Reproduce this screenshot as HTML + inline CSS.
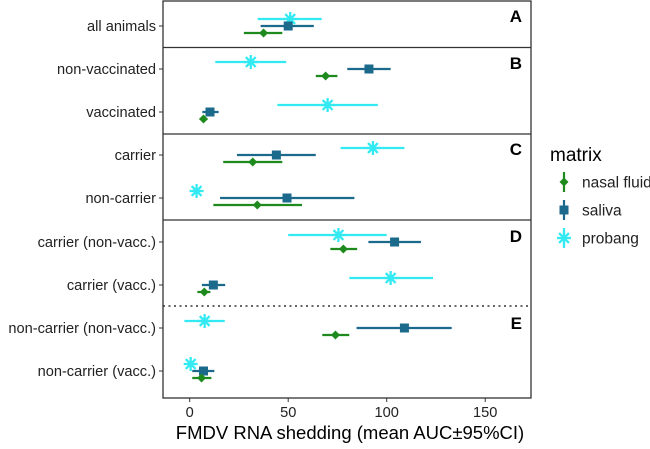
<!DOCTYPE html>
<html><head><meta charset="utf-8"><style>
body{margin:0;background:#fff;font-family:"Liberation Sans",sans-serif}
svg text{font-family:"Liberation Sans",sans-serif}
</style></head><body>
<svg id="c" width="650" height="444" xmlns="http://www.w3.org/2000/svg"></svg>
<script>
const rows=["all animals","non-vaccinated","vaccinated","carrier","non-carrier","carrier (non-vacc.)","carrier (vacc.)","non-carrier (non-vacc.)","non-carrier (vacc.)"];
const nasalMean=[37.5,69,7,32,34.3,78,7.4,74,6];
const nasalLo=[27.5,64,5,17,12,71.4,3.9,67.3,1.3];
const nasalHi=[47,75,9,47,57,85,10.5,81,11];
const salivaMean=[50,91,10.3,44,49.4,104,12,109,7];
const salivaLo=[36,80,6.4,24,15.4,90.7,6.2,84.7,1.3];
const salivaHi=[63,102,14.7,64,83.6,117.4,18,133,12.5];
const probangMean=[51,31,70,93,3.5,75.5,102,7.6,0.5];
const probangLo=[34.5,13,44.5,76.6,3.5,50,81,-2.7,0.5];
const probangHi=[67,49,95.5,109,3.5,100,123.5,17.8,0.5];
const xTicks=[0,50,100,150];
const panelLabels=["A","B","C","D","E"];

const svg=document.getElementById('c');const NS="http://www.w3.org/2000/svg";
function el(t,a,p){const e=document.createElementNS(NS,t);for(const k in a)e.setAttribute(k,a[k]);(p||svg).appendChild(e);return e;}
const L=163,R=531,T=1,B=398;
const x=v=>189.7+v*1.97;
const rowY=[26,69,112,155,198,242,285,328,371];
const y=i=>rowY[i];
const cN="#1e8a1e",cS="#1b6a8c",cP="#33eaf2";
const frame=el('rect',{x:L,y:T,width:R-L,height:B-T,fill:'none',stroke:'#333','stroke-width':1.3});

[47.5,134,220].forEach(py=>{const l=el('line',{x1:L,x2:R,y1:py,y2:py,stroke:'#333','stroke-width':1.3});
});
const dl=el('line',{x1:L,x2:R,y1:306,y2:306,stroke:'#333','stroke-width':1.5,'stroke-dasharray':'2 3.5'});

const plY=[16,63,149,236,323];
panelLabels.forEach((t,i)=>{const e=el('text',{x:522,y:plY[i]+6,'text-anchor':'end','font-size':17,'font-weight':'bold',fill:'#000'});e.textContent=t;
});
rows.forEach((r,i)=>{const t=el('line',{x1:L-4,x2:L,y1:y(i),y2:y(i),stroke:'#333'});

const e=el('text',{x:156,y:y(i)+5,'text-anchor':'end','font-size':14.6,fill:'#222'});e.textContent=r;
});
xTicks.forEach(v=>{const t=el('line',{x1:x(v),x2:x(v),y1:B,y2:B+4,stroke:'#333'});

const e=el('text',{x:x(v),y:B+19,'text-anchor':'middle','font-size':14.6,fill:'#222'});e.textContent=v;
});
const xt=el('text',{x:350,y:439,'text-anchor':'middle','font-size':18.5,fill:'#000'});xt.textContent="FMDV RNA shedding (mean AUC±95%CI)";

function star(cx,cy,r,col,g){for(let k=0;k<4;k++){const a=k*Math.PI/4;el('line',{x1:cx-r*Math.cos(a),y1:cy-r*Math.sin(a),x2:cx+r*Math.cos(a),y2:cy+r*Math.sin(a),stroke:col,'stroke-width':2.3},g);}}
function mark(type,cx,cy,col,g){if(type==='n')el('polygon',{points:`${cx},${cy-4.5} ${cx+4.5},${cy} ${cx},${cy+4.5} ${cx-4.5},${cy}`,fill:col},g);
else if(type==='s')el('rect',{x:cx-4.5,y:cy-4.5,width:9,height:9,fill:col},g);else star(cx,cy,7,col,g);}
const series=[['p',probangMean,probangLo,probangHi,cP,-7,'probang'],['s',salivaMean,salivaLo,salivaHi,cS,0,'saliva'],['n',nasalMean,nasalLo,nasalHi,cN,7,'nasal']];
series.forEach(s=>{rows.forEach((r,i)=>{const g=el('g',{});

const yy=y(i)+s[5];el('line',{x1:x(s[2][i]),x2:x(s[3][i]),y1:yy,y2:yy,stroke:s[4],'stroke-width':2.2},g);mark(s[0],x(s[1][i]),yy,s[4],g);});});
const lg=el('g',{});
const lt=el('text',{x:550,y:161,'font-size':19,fill:'#000'},lg);lt.textContent='matrix';
[['n',cN,'nasal fluid',182],['s',cS,'saliva',210],['p',cP,'probang',238]].forEach(d=>{const g=el('g',{},lg);

el('line',{x1:564,x2:564,y1:d[3]-10,y2:d[3]+10,stroke:d[1],'stroke-width':2.2},g);mark(d[0],564,d[3],d[1],g);
const t=el('text',{x:582,y:d[3]+5.5,'font-size':15.5,fill:'#222'},g);t.textContent=d[2];});
</script>
</body></html>
